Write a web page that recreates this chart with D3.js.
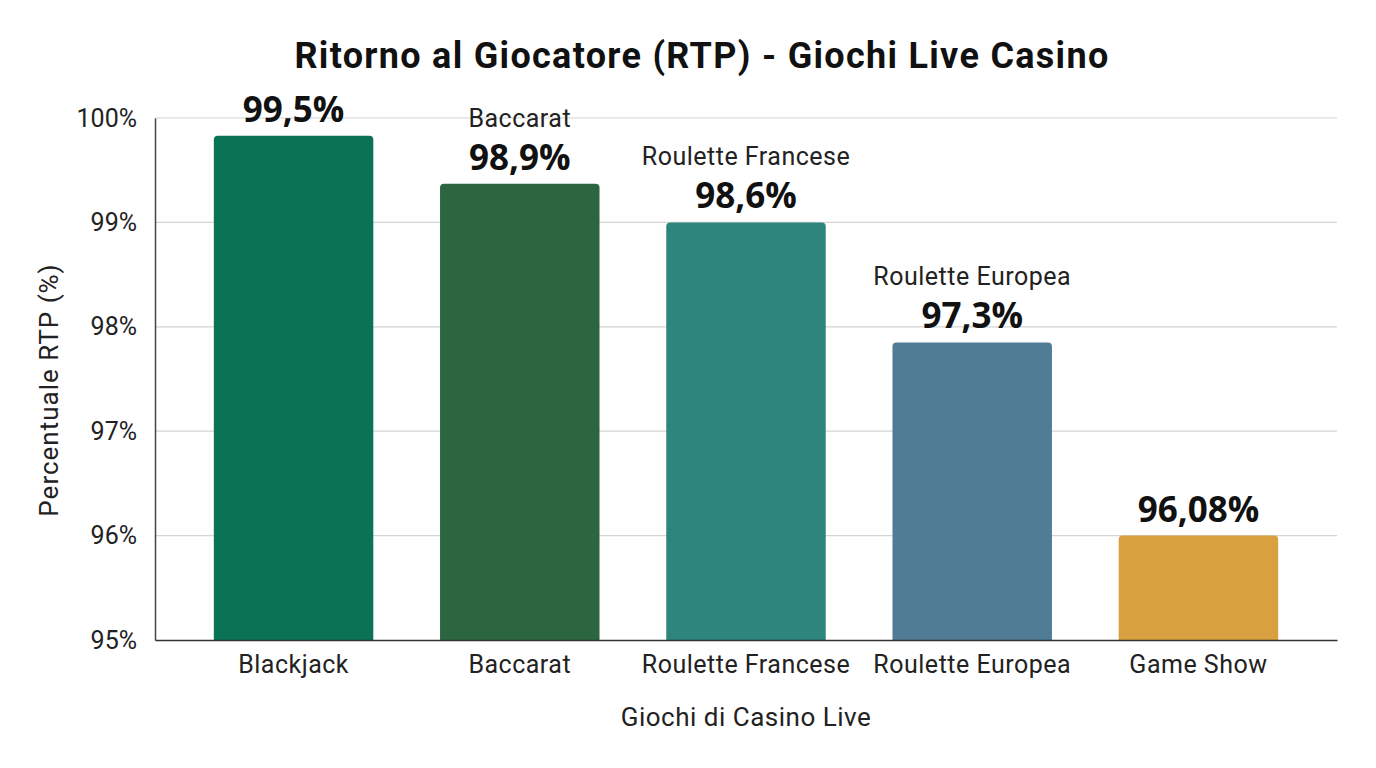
<!DOCTYPE html>
<html>
<head>
<meta charset="utf-8">
<script src="https://cdn.jsdelivr.net/npm/d3@7"></script>
<style>
  body { margin: 0; background: #fff; }
  svg { display: block; font-family: Roboto, sans-serif; }
</style>
</head>
<body>
<div id="chart"></div>
<script>
const games = ["Blackjack", "Baccarat", "Roulette Francese", "Roulette Europea", "Game Show"]
// bar heights as drawn in the picture
const barValues = [99.83, 99.37, 99.0, 97.85, 96.0]
// printed labels above bars
const valueLabels = ["99,5%", "98,9%", "98,6%", "97,3%", "96,08%"]
const nameLabels = ["", "Baccarat", "Roulette Francese", "Roulette Europea", ""]
const colors = ["#0b7355", "#2b6640", "#2e857c", "#507c95", "#d9a03f"]
const yTicks = [95, 96, 97, 98, 99, 100]

const W = 1376, H = 768
const MARGIN = { TOP: 118, BOTTOM: 128, LEFT: 155, RIGHT: 39 }
const WIDTH = W - MARGIN.LEFT - MARGIN.RIGHT
const HEIGHT = H - MARGIN.TOP - MARGIN.BOTTOM

const svg = d3.select("#chart").append("svg")
	.attr("width", W)
	.attr("height", H)

svg.append("text")
	.attr("x", 702)
	.attr("y", 68)
	.attr("text-anchor", "middle")
	.attr("font-size", "36px")
	.attr("letter-spacing", "1.3px")
	.attr("font-weight", "bold")
	.attr("fill", "#111")
	.text("Ritorno al Giocatore (RTP) - Giochi Live Casino")

const g = svg.append("g")
	.attr("transform", `translate(${MARGIN.LEFT}, ${MARGIN.TOP})`)

const x = d3.scaleBand()
	.domain(games)
	.range([0, WIDTH])
	.paddingInner(0.295)
	.paddingOuter(0.26)

const y = d3.scaleLinear()
	.domain([95, 100])
	.range([HEIGHT, 0])

// gridlines
g.append("g")
	.selectAll("line")
	.data(yTicks.filter(d => d > 95))
	.enter().append("line")
		.attr("x1", 0)
		.attr("x2", WIDTH)
		.attr("y1", d => y(d))
		.attr("y2", d => y(d))
		.attr("stroke", "#d4d4d4")
		.attr("stroke-width", 1.2)

// bars
g.selectAll("path.bar")
	.data(games)
	.enter().append("path")
		.attr("class", "bar")
		.attr("fill", (d, i) => colors[i])
		.attr("d", (d, i) => {
			const x0 = x(d), w = x.bandwidth(), y0 = y(barValues[i]), y1 = y(95), r = 4
			return `M${x0},${y1}V${y0 + r}Q${x0},${y0} ${x0 + r},${y0}H${x0 + w - r}Q${x0 + w},${y0} ${x0 + w},${y0 + r}V${y1}Z`
		})

// axes
const yAxis = g.append("g")
	.call(d3.axisLeft(y).tickValues(yTicks).tickSize(0).tickPadding(18).tickFormat(d => d + "%"))
yAxis.select(".domain").attr("stroke", "#444").attr("stroke-width", 1.5)
yAxis.selectAll("text").attr("font-size", "25px").attr("font-family", "Roboto").attr("fill", "#222")

const xAxis = g.append("g")
	.attr("transform", `translate(0, ${HEIGHT})`)
	.call(d3.axisBottom(x).tickSize(0).tickPadding(15))
xAxis.select(".domain").attr("stroke", "#333").attr("stroke-width", 1.5)
xAxis.selectAll("text").attr("font-size", "25px").attr("letter-spacing", "0.5px")
	.attr("font-family", "Roboto").attr("fill", "#222")

// value labels
g.selectAll("text.value")
	.data(games)
	.enter().append("text")
		.attr("class", "value")
		.attr("x", d => x(d) + x.bandwidth() / 2)
		.attr("y", (d, i) => y(barValues[i]) - 14)
		.attr("text-anchor", "middle")
		.attr("font-family", "'Open Sans', 'Noto Sans', sans-serif")
		.attr("font-weight", "bold")
		.attr("font-size", "35px")
		.attr("fill", "#111")
		.text((d, i) => valueLabels[i])

g.selectAll("text.name")
	.data(games)
	.enter().append("text")
		.attr("class", "name")
		.attr("x", d => x(d) + x.bandwidth() / 2)
		.attr("y", (d, i) => y(barValues[i]) - 57)
		.attr("text-anchor", "middle")
		.attr("font-size", "25px")
		.attr("letter-spacing", "0.5px")
		.attr("fill", "#222")
		.text((d, i) => nameLabels[i])

// axis titles
svg.append("text")
	.attr("transform", `translate(58, 390) rotate(-90)`)
	.attr("text-anchor", "middle")
	.attr("font-size", "26px")
	.attr("letter-spacing", "1px")
	.attr("fill", "#222")
	.text("Percentuale RTP (%)")

svg.append("text")
	.attr("x", 746)
	.attr("y", 726)
	.attr("text-anchor", "middle")
	.attr("font-size", "26px")
	.attr("letter-spacing", "0.5px")
	.attr("fill", "#222")
	.text("Giochi di Casino Live")
</script>
</body>
</html>
